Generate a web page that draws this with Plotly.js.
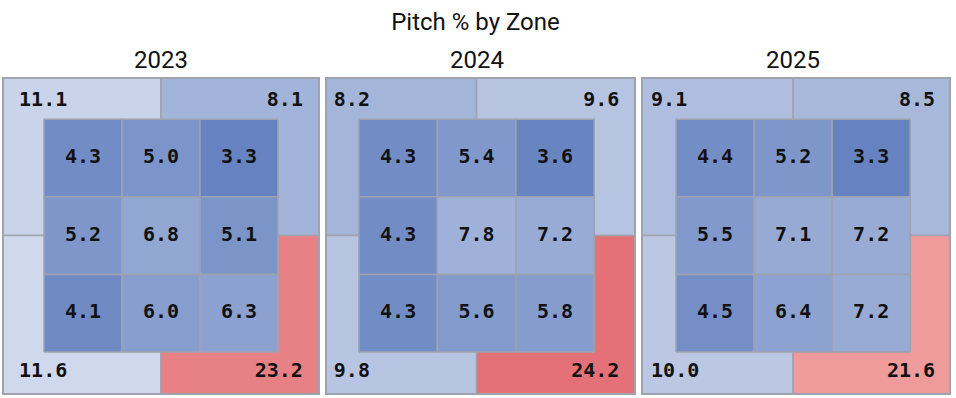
<!DOCTYPE html>
<html>
<head>
<meta charset="utf-8">
<script src="https://cdn.plot.ly/plotly-3.0.1.min.js"></script>
<style>html,body{margin:0;padding:0;background:#fff;}#chart{width:956px;height:398px;}</style>
</head>
<body>
<div id="chart"></div>
<script>
// ---- data ----
const years = ['2023', '2024', '2025'];
// inner 3x3 zone values, rows from top to bottom, columns left to right
const inner2023 = [[4.3, 5.0, 3.3], [5.2, 6.8, 5.1], [4.1, 6.0, 6.3]];
const inner2024 = [[4.3, 5.4, 3.6], [4.3, 7.8, 7.2], [4.3, 5.6, 5.8]];
const inner2025 = [[4.4, 5.2, 3.3], [5.5, 7.1, 7.2], [4.5, 6.4, 7.2]];
// outer (shadow) zones: top-left, top-right, bottom-left, bottom-right
const outer2023 = [11.1, 8.1, 11.6, 23.2];
const outer2024 = [8.2, 9.6, 9.8, 24.2];
const outer2025 = [9.1, 8.5, 10.0, 21.6];

const innerData = [inner2023, inner2024, inner2025];
const outerData = [outer2023, outer2024, outer2025];

// ---- colour scale (value -> colour) ----
const colorStops = [
  [2.0, [85, 117, 185]],
  [12.0, [212, 220, 238]],
  [14.5, [242, 240, 240]],
  [18.0, [246, 195, 195]],
  [21.6, [239, 155, 156]],
  [24.2, [228, 113, 119]],
  [27.0, [216, 74, 85]]
];
function valColor(v) {
  if (v <= colorStops[0][0]) return 'rgb(' + colorStops[0][1].join(',') + ')';
  for (let i = 1; i < colorStops.length; i++) {
    if (v <= colorStops[i][0]) {
      const [a, ca] = colorStops[i - 1], [b, cb] = colorStops[i];
      const t = (v - a) / (b - a);
      const c = ca.map((x, k) => Math.round(x + t * (cb[k] - x)));
      return 'rgb(' + c.join(',') + ')';
    }
  }
  return 'rgb(' + colorStops[colorStops.length - 1][1].join(',') + ')';
}

// ---- geometry (in zone units) ----
const W = 956, H = 398;
const xDomPx = [[3, 319], [326, 635], [642, 950]];
const xRanges = [[-0.526, 3.526], [-0.42, 3.52], [-0.436, 3.51]];
const panelCenterPx = [161, 476.5, 793];
const yDomPx = [78, 394];
const yRange = [-0.54, 3.53];
const lineCol = '#9ea3ad';
const textFont = {family: 'DejaVu Sans Mono, monospace', size: 20, color: '#111111', weight: 'bold'};

const traces = [];
const shapes = [];
const annotations = [];

function rectTrace(x0, x1, y0, y1, v, xa, ya) {
  return {
    type: 'scatter', mode: 'lines',
    x: [x0, x1, x1, x0, x0], y: [y0, y0, y1, y1, y0],
    fill: 'toself', fillcolor: valColor(v),
    line: {color: lineCol, width: 1.5},
    hoverinfo: 'skip', showlegend: false,
    xaxis: xa, yaxis: ya
  };
}

for (let p = 0; p < 3; p++) {
  const xa = p === 0 ? 'x' : 'x' + (p + 1);
  const ya = p === 0 ? 'y' : 'y' + (p + 1);
  const out = outerData[p];
  // outer quadrants: TL, TR, BL, BR
  const quads = [[-0.6, 1.5, 1.5, 3.6], [1.5, 3.6, 1.5, 3.6], [-0.6, 1.5, -0.6, 1.5], [1.5, 3.6, -0.6, 1.5]];
  quads.forEach((q, i) => traces.push(rectTrace(q[0], q[1], q[2], q[3], out[i], xa, ya)));
  // inner cells
  const inn = innerData[p];
  const tx = [], ty = [], tt = [];
  for (let r = 0; r < 3; r++) {
    for (let c = 0; c < 3; c++) {
      const y0 = 2 - r;
      traces.push(rectTrace(c, c + 1, y0, y0 + 1, inn[r][c], xa, ya));
      tx.push(c + 0.5); ty.push(y0 + 0.5); tt.push(inn[r][c].toFixed(1));
    }
  }
  traces.push({type: 'scatter', mode: 'text', x: tx, y: ty, text: tt,
    textposition: 'middle center', textfont: textFont, hoverinfo: 'skip', showlegend: false, xaxis: xa, yaxis: ya});
  // outer labels
  traces.push({type: 'scatter', mode: 'text', x: [-0.32, -0.32], y: [3.23, -0.26],
    text: [out[0].toFixed(1), out[2].toFixed(1)], textposition: 'middle right', textfont: textFont,
    hoverinfo: 'skip', showlegend: false, xaxis: xa, yaxis: ya, cliponaxis: false});
  traces.push({type: 'scatter', mode: 'text', x: [3.32, 3.32], y: [3.23, -0.26],
    text: [out[1].toFixed(1), out[3].toFixed(1)], textposition: 'middle left', textfont: textFont,
    hoverinfo: 'skip', showlegend: false, xaxis: xa, yaxis: ya, cliponaxis: false});
  // frame
  shapes.push({type: 'rect', xref: xa + ' domain', yref: ya + ' domain', x0: 0, x1: 1, y0: 0, y1: 1,
    line: {color: lineCol, width: 2}, fillcolor: 'rgba(0,0,0,0)', layer: 'above'});
  // panel title
  annotations.push({text: years[p], xref: 'paper', yref: 'paper', x: panelCenterPx[p] / W, y: 1 - 60 / H,
    xanchor: 'center', yanchor: 'middle', showarrow: false,
    font: {family: 'Roboto, sans-serif', size: 24, color: '#111111'}});
}

const layout = {
  width: W, height: H,
  margin: {l: 0, r: 0, t: 0, b: 0},
  paper_bgcolor: '#ffffff', plot_bgcolor: '#ffffff',
  showlegend: false,
  title: {text: 'Pitch % by Zone', x: 475.5 / W, xanchor: 'center', y: 1 - 22 / H, yanchor: 'middle',
    font: {family: 'Roboto, sans-serif', size: 24, color: '#111111'}},
  shapes: shapes,
  annotations: annotations
};
const axBase = {showgrid: false, zeroline: false, showticklabels: false, ticks: '', showline: false, fixedrange: true};
for (let p = 0; p < 3; p++) {
  const sfx = p === 0 ? '' : String(p + 1);
  layout['xaxis' + sfx] = Object.assign({}, axBase, {domain: [xDomPx[p][0] / W, xDomPx[p][1] / W], range: xRanges[p], anchor: 'y' + sfx});
  layout['yaxis' + sfx] = Object.assign({}, axBase, {domain: [(H - yDomPx[1]) / H, (H - yDomPx[0]) / H], range: yRange, anchor: 'x' + sfx});
}

Plotly.newPlot('chart', traces, layout, {displayModeBar: false, staticPlot: true});
</script>
</body>
</html>
